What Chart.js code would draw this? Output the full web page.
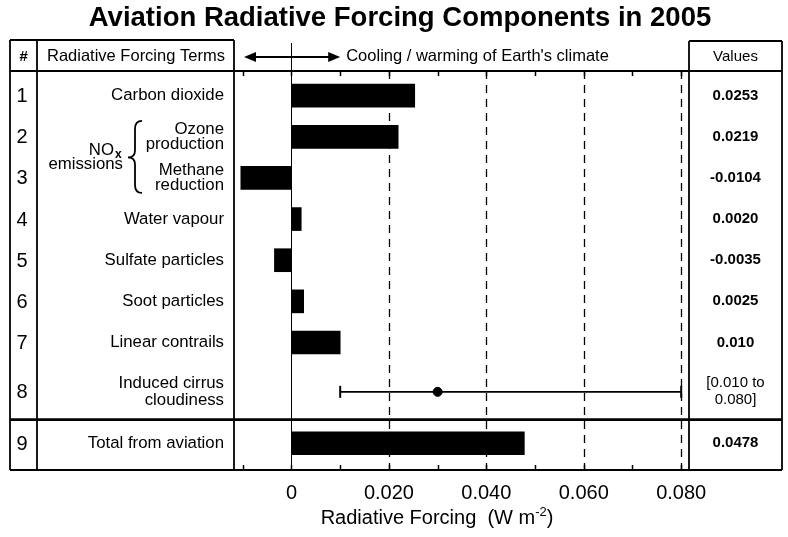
<!DOCTYPE html>
<html>
<head>
<meta charset="utf-8">
<title>Aviation Radiative Forcing Components in 2005</title>
<script src="https://cdn.jsdelivr.net/npm/chart.js@4.4.1/dist/chart.umd.min.js"></script>
<style>
  html, body { margin: 0; padding: 0; background: #fff; }
  #chart { display: block; }
</style>
</head>
<body>
<canvas id="chart" width="788" height="537"></canvas>
<script>
const rowNumbers = ['1', '2', '3', '4', '5', '6', '7', '8', '9'];
const termLines = [
    ['Carbon dioxide'],
    ['Ozone', 'production'],
    ['Methane', 'reduction'],
    ['Water vapour'],
    ['Sulfate particles'],
    ['Soot particles'],
    ['Linear contrails'],
    ['Induced cirrus', 'cloudiness'],
    ['Total from aviation']
];
const forcing = [0.0253, 0.0219, -0.0104, 0.0020, -0.0035, 0.0025, 0.010, null, 0.0478];
const decimals = [4, 4, 4, 4, 4, 4, 3, 3, 4];
const cirrusRange = [0.010, 0.080];
const cirrusBest = 0.030;
const tickValues = [-0.01, 0, 0.01, 0.02, 0.03, 0.04, 0.05, 0.06, 0.07, 0.08];
const tickLabels = ['', '0', '', '0.020', '', '0.040', '', '0.060', '', '0.080'];
const gridValues = [0.02, 0.04, 0.06, 0.08];

const FONT = "'Liberation Sans', Arial, Helvetica, sans-serif";

// rows 1-7 sit on a regular step, row 8 gets a little extra room and the total row sits below the separator
function rowPos(i) {
    return i + 1 + (i >= 7 ? 0.2 : 0) + (i >= 8 ? 0.25 : 0);
}

function valueText(i) {
    if (forcing[i] === null) {
        return ['[' + cirrusRange[0].toFixed(3) + ' to', cirrusRange[1].toFixed(3) + ']'];
    }
    return [forcing[i].toFixed(decimals[i])];
}

function line(ctx, x1, y1, x2, y2) {
    ctx.beginPath();
    ctx.moveTo(x1, y1);
    ctx.lineTo(x2, y2);
    ctx.stroke();
}

function drawLines(ctx, lines, x, y, gap) {
    const start = y - (lines.length - 1) * gap / 2;
    lines.forEach((t, k) => ctx.fillText(t, x, start + k * gap));
}

const TABLE_TOP = 40;
const LEFT = 10;
const NUM_RIGHT = 37;
const RIGHT = 782;

const tablePlugin = {
    id: 'forcingTable',
    beforeDatasetsDraw(chart) {
        const { ctx, chartArea: a, scales: { x } } = chart;
        ctx.save();
        ctx.strokeStyle = '#000';
        ctx.lineWidth = 1.3;
        ctx.setLineDash([8, 6]);
        gridValues.forEach(v => {
            const px = Math.round(x.getPixelForValue(v)) + 0.5;
            line(ctx, px, a.top, px, a.bottom);
        });
        ctx.setLineDash([]);
        ctx.lineWidth = 1;
        const zx = Math.round(x.getPixelForValue(0)) + 0.5;
        line(ctx, zx, TABLE_TOP + 3, zx, a.bottom);
        ctx.restore();
    },
    afterDraw(chart) {
        const { ctx, chartArea: a, scales: { x, y } } = chart;
        ctx.save();
        ctx.strokeStyle = '#000';
        ctx.fillStyle = '#000';

        // frame of the table
        ctx.lineWidth = 1.8;
        line(ctx, LEFT, TABLE_TOP, a.left, TABLE_TOP);
        line(ctx, a.right, TABLE_TOP + 1, RIGHT, TABLE_TOP + 1);
        [LEFT, NUM_RIGHT, a.left].forEach(px => line(ctx, px, TABLE_TOP, px, a.bottom));
        [a.right, RIGHT].forEach(px => line(ctx, px, TABLE_TOP + 1, px, a.bottom));
        line(ctx, LEFT, a.top, RIGHT, a.top);
        ctx.lineWidth = 2.2;
        line(ctx, LEFT, a.bottom, RIGHT, a.bottom);
        const sepY = y.getPixelForValue((rowPos(7) + rowPos(8)) / 2 + 0.05);
        ctx.lineWidth = 2.6;
        line(ctx, LEFT, sepY, RIGHT, sepY);

        // small ticks along the top and bottom edges
        ctx.lineWidth = 1.5;
        tickValues.forEach(v => {
            const px = Math.round(x.getPixelForValue(v)) + 0.5;
            line(ctx, px, a.top, px, a.top + 5);
            line(ctx, px, a.bottom, px, a.bottom - 5);
        });

        // cooling / warming arrow
        const ay = 57;
        const ax1 = a.left + 10;
        const ax2 = x.getPixelForValue(0.01);
        ctx.lineWidth = 2;
        line(ctx, ax1 + 8, ay, ax2 - 8, ay);
        ctx.beginPath();
        ctx.moveTo(ax1, ay); ctx.lineTo(ax1 + 12, ay - 5); ctx.lineTo(ax1 + 12, ay + 5); ctx.closePath();
        ctx.moveTo(ax2, ay); ctx.lineTo(ax2 - 12, ay - 5); ctx.lineTo(ax2 - 12, ay + 5); ctx.closePath();
        ctx.fill();

        // title
        ctx.textBaseline = 'middle';
        ctx.textAlign = 'center';
        ctx.font = 'bold 27.5px ' + FONT;
        ctx.fillText('Aviation Radiative Forcing Components in 2005', 400, 18);

        // header row
        const hy = (TABLE_TOP + a.top) / 2 + 1;
        ctx.font = 'italic bold 15px ' + FONT;
        ctx.fillText('#', (LEFT + NUM_RIGHT) / 2, hy);
        ctx.font = '16.5px ' + FONT;
        ctx.textAlign = 'left';
        ctx.fillText('Radiative Forcing Terms', NUM_RIGHT + 10, hy);
        ctx.font = '16.5px ' + FONT;
        ctx.fillText("Cooling / warming of Earth's climate", ax2 + 6, hy);
        ctx.textAlign = 'center';
        ctx.font = '15px ' + FONT;
        ctx.fillText('Values', (a.right + RIGHT) / 2, hy);

        // rows
        const termX = a.left - 10;
        rowNumbers.forEach((n, i) => {
            const ry = y.getPixelForValue(rowPos(i));
            ctx.textAlign = 'center';
            ctx.font = '20px ' + FONT;
            ctx.fillText(n, 22, ry + 1);
            ctx.textAlign = 'right';
            ctx.font = '16.8px ' + FONT;
            drawLines(ctx, termLines[i], termX, ry, i === 7 ? 17 : 15);
            ctx.textAlign = 'center';
            ctx.font = (i === 7 ? '' : 'bold ') + '15px ' + FONT;
            drawLines(ctx, valueText(i), (a.right + RIGHT) / 2, ry, 17);
        });

        // NOx emissions group with its brace
        const y2 = y.getPixelForValue(rowPos(1));
        const y3 = y.getPixelForValue(rowPos(2));
        const mid = (y2 + y3) / 2;
        ctx.textAlign = 'right';
        ctx.font = '16.8px ' + FONT;
        ctx.fillText('NO', 114, mid - 7);
        ctx.font = 'bold 12px ' + FONT;
        ctx.textAlign = 'left';
        ctx.fillText('x', 115, mid - 3);
        ctx.textAlign = 'right';
        ctx.font = '16.8px ' + FONT;
        ctx.fillText('emissions', 123, mid + 7);
        const bx = 135;
        const bt = y2 - 16;
        const bb = y3 + 15;
        ctx.lineWidth = 1.8;
        ctx.beginPath();
        ctx.moveTo(bx + 7, bt);
        ctx.quadraticCurveTo(bx, bt, bx, bt + 8);
        ctx.lineTo(bx, mid - 7);
        ctx.quadraticCurveTo(bx, mid, bx - 7, mid);
        ctx.quadraticCurveTo(bx, mid, bx, mid + 7);
        ctx.lineTo(bx, bb - 8);
        ctx.quadraticCurveTo(bx, bb, bx + 7, bb);
        ctx.stroke();

        // axis title with superscript
        const parts = ['Radiative Forcing  (W m', '-2', ')'];
        ctx.textBaseline = 'alphabetic';
        ctx.textAlign = 'left';
        ctx.font = '20px ' + FONT;
        const w0 = ctx.measureText(parts[0]).width;
        const w2 = ctx.measureText(parts[2]).width;
        ctx.font = '13px ' + FONT;
        const w1 = ctx.measureText(parts[1]).width;
        let tx = 437 - (w0 + w1 + w2) / 2;
        const ty = 524;
        ctx.font = '20px ' + FONT;
        ctx.fillText(parts[0], tx, ty);
        tx += w0;
        ctx.font = '13px ' + FONT;
        ctx.fillText(parts[1], tx, ty - 8);
        tx += w1;
        ctx.font = '20px ' + FONT;
        ctx.fillText(parts[2], tx, ty);
        ctx.restore();
    }
};

const barData = [];
forcing.forEach((v, i) => {
    if (v !== null) {
        barData.push({ x: v, y: rowPos(i) });
    }
});

const ctx = document.getElementById('chart').getContext('2d');
new Chart(ctx, {
    type: 'bar',
    data: {
        datasets: [
            {
                type: 'bar',
                data: barData,
                backgroundColor: '#000',
                borderWidth: 0,
                barThickness: 23
            },
            {
                type: 'line',
                data: cirrusRange.map(v => ({ x: v, y: rowPos(7) })),
                borderColor: '#000',
                borderWidth: 1.6,
                pointStyle: 'line',
                pointRotation: 90,
                pointRadius: 6,
                pointBorderWidth: 2,
                pointBorderColor: '#000'
            },
            {
                type: 'scatter',
                data: [{ x: cirrusBest, y: rowPos(7) }],
                pointRadius: 4.5,
                backgroundColor: '#000',
                borderColor: '#000'
            }
        ]
    },
    options: {
        responsive: false,
        animation: false,
        indexAxis: 'y',
        layout: { padding: { left: 234, right: 99, top: 71, bottom: 0 } },
        plugins: {
            legend: { display: false },
            tooltip: { enabled: false }
        },
        scales: {
            x: {
                type: 'linear',
                min: -0.0118,
                max: 0.0816,
                afterBuildTicks: s => { s.ticks = tickValues.map(v => ({ value: v })); },
                afterFit: s => { s.height = 67; },
                grid: { display: false, drawTicks: false },
                border: { display: false },
                ticks: {
                    padding: 11,
                    color: '#000',
                    autoSkip: false,
                    maxRotation: 0,
                    font: { family: FONT, size: 20 },
                    callback: (v, i) => tickLabels[i]
                }
            },
            y: {
                type: 'linear',
                reverse: true,
                min: 0.4,
                max: 10.1,
                offset: false,
                display: false
            }
        }
    },
    plugins: [tablePlugin]
});
</script>
</body>
</html>
